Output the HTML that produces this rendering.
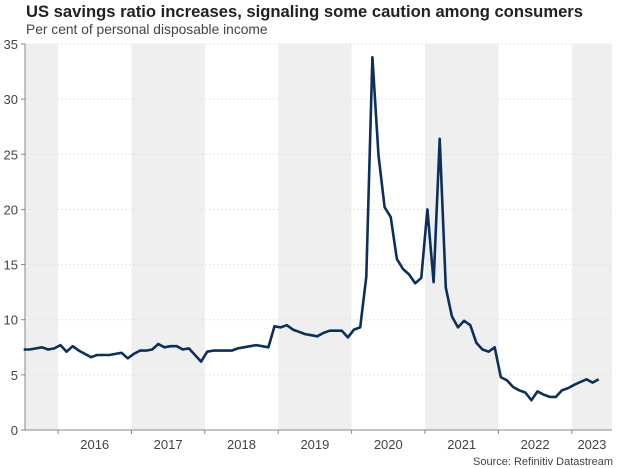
<!DOCTYPE html>
<html><head><meta charset="utf-8">
<style>
body{margin:0;background:#fff;}
svg{display:block;font-family:"Liberation Sans",Arial,sans-serif;}
</style></head>
<body>
<svg id="chart" width="624" height="468">
<text x="26" y="17" font-size="16.6" font-weight="bold" fill="#222">US savings ratio increases, signaling some caution among consumers</text>
<text x="26" y="34" font-size="13.8" fill="#444">Per cent of personal disposable income</text>
<g id="bands"></g>
<g id="grid"></g>
<g id="axes"></g>
<g id="series"></g>
<text x="613" y="465" font-size="11" fill="#444" text-anchor="end">Source: Refinitiv Datastream</text>
</svg>
<script>
// Monthly values starting Jul 2015
const startMonth = 6; // months since Jan 2015
const savingsRatio = [7.3,7.3,7.4,7.5,7.3,7.4,
 7.7,7.1,7.6,7.2,6.9,6.6,6.8,6.8,6.8,6.9,7.0,6.5,
 6.9,7.2,7.2,7.3,7.8,7.5,7.6,7.6,7.3,7.4,6.8,6.2,
 7.1,7.2,7.2,7.2,7.2,7.4,7.5,7.6,7.7,7.6,7.5,9.4,
 9.3,9.5,9.1,8.9,8.7,8.6,8.5,8.8,9.0,9.0,9.0,8.4,
 9.1,9.3,13.9,33.8,24.9,20.2,19.3,15.5,14.6,14.1,13.3,13.8,
 20.0,13.4,26.4,12.9,10.3,9.3,9.9,9.5,7.9,7.3,7.1,7.5,
 4.8,4.5,3.9,3.6,3.4,2.7,3.5,3.2,3.0,3.0,3.6,3.8,
 4.1,4.35,4.6,4.3,4.6];
const years = [2016,2017,2018,2019,2020,2021,2022,2023];
const yTicks = [0,5,10,15,20,25,30,35];

const NS="http://www.w3.org/2000/svg";
const L=25,R=612,T=44,B=430;
const yMax=35;
const yS=v=>B-(v/yMax)*(B-T);
const yearW=73.4;
const xYear=y=>58+(y-2016)*yearW;
const xMonth=i=>xYear(2015)+(i+0.4)*yearW/12;
function el(tag,attrs,parent){const e=document.createElementNS(NS,tag);for(const k in attrs)e.setAttribute(k,attrs[k]);parent.appendChild(e);return e;}
const bands=document.getElementById('bands'),grid=document.getElementById('grid'),axes=document.getElementById('axes'),series=document.getElementById('series');
[2015,2017,2019,2021,2023].forEach(y=>{
 const x0=Math.max(L,xYear(y)),x1=Math.min(R,xYear(y+1));
 const r=el('rect',{x:x0,y:T,width:x1-x0,height:B-T,fill:'#efefef'},bands);
 
 
});
yTicks.forEach(v=>{
 const y=yS(v);
 if(v>0){const g=el('line',{x1:L,x2:R,y1:y,y2:y,stroke:'#e4e4e4','stroke-dasharray':'2,2','stroke-width':1},grid);
 
 }
 const tk=el('line',{x1:L-4,x2:L,y1:y,y2:y,stroke:'#888'},axes);
 
 
 const t=el('text',{x:L-7,y:y+5,'font-size':13,fill:'#444','text-anchor':'end'},axes);
 t.textContent=v;
 
 
});
const ya=el('line',{x1:L,x2:L,y1:T,y2:B,stroke:'#888'},axes);


const xa=el('line',{x1:L-4,x2:R,y1:B,y2:B,stroke:'#888'},axes);


years.forEach(y=>{
 const x0=xYear(y),x1=Math.min(R,xYear(y+1));
 const tk=el('line',{x1:x0,x2:x0,y1:B,y2:B+4,stroke:'#888'},axes);
 
 
 const t=el('text',{x:(x0+x1)/2,y:B+19,'font-size':13,fill:'#444','text-anchor':'middle'},axes);
 t.textContent=y;
 
 
});
const pts=savingsRatio.map((v,k)=>xMonth(startMonth+k).toFixed(1)+','+yS(v).toFixed(1)).join(' ');
const line=el('polyline',{points:pts,fill:'none',stroke:'#0c2f5c','stroke-width':2.6,'stroke-linejoin':'round'},series);


</script>
</body></html>
